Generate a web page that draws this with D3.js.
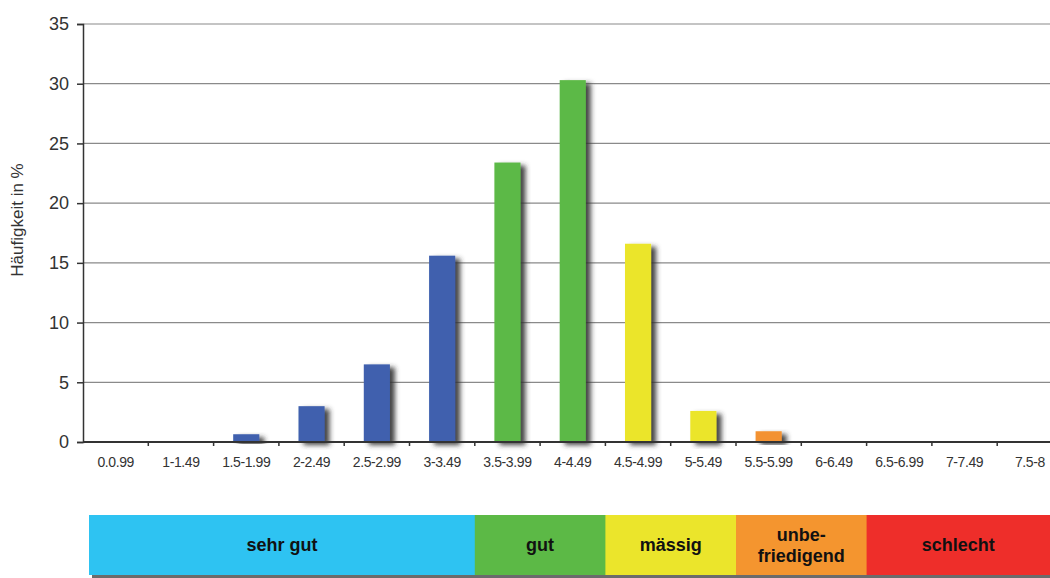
<!DOCTYPE html>
<html lang="de">
<head>
    <meta charset="UTF-8" />
    <title>Häufigkeit Notenverteilung</title>
    <script src="https://d3js.org/d3.v7.min.js"></script>
    <style>
        body { margin: 0; background: #fff; }
        svg { display: block; font-family: "Liberation Sans", Arial, Helvetica, sans-serif; }
    </style>
</head>
<body>
    <script>
        var w = 1050;
        var h = 578;

        // Data
        var categories = ["0.0.99", "1-1.49", "1.5-1.99", "2-2.49", "2.5-2.99", "3-3.49", "3.5-3.99",
            "4-4.49", "4.5-4.99", "5-5.49", "5.5-5.99", "6-6.49", "6.5-6.99", "7-7.49", "7.5-8"];
        var values = [0, 0, 0.65, 3.0, 6.5, 15.6, 23.4, 30.3, 16.6, 2.6, 0.9, 0, 0, 0, 0];
        var groups = ["sehr gut", "sehr gut", "sehr gut", "sehr gut", "sehr gut", "sehr gut", "gut",
            "gut", "mässig", "mässig", "unbefriedigend", "unbefriedigend", "schlecht", "schlecht", "schlecht"];
        var yTicks = [0, 5, 10, 15, 20, 25, 30, 35];
        var legendLabels = ["sehr gut", "gut", "mässig", "unbe-|friedigend", "schlecht"];
        var legendStart = [0, 6, 8, 10, 12];   // category index where a band starts
        var legendEnd = [6, 8, 10, 12, 15];

        var barColor = {
            "sehr gut": "#3f61ae",
            "gut": "#5cb946",
            "mässig": "#ebe52b",
            "unbefriedigend": "#f39230",
            "schlecht": "#ee2f2a"
        };
        var legendColor = ["#2ec3f2", "#5cb946", "#ebe52b", "#f4952f", "#ee2e2a"];

        var margin = { left: 83, top: 24 };
        var plotBottom = 442;

        var svg = d3.select("body")
            .append("svg")
            .attr("width", w)
            .attr("height", h);

        var defs = svg.append("defs");
        defs.append("filter")
            .attr("id", "shadow")
            .attr("x", "-20%").attr("y", "-20%")
            .attr("width", "160%").attr("height", "140%")
            .append("feDropShadow")
            .attr("dx", 5).attr("dy", 3)
            .attr("stdDeviation", 2.8)
            .attr("flood-color", "#333")
            .attr("flood-opacity", 0.9);

        // Scales
        var xScale = d3.scaleBand()
            .domain(d3.range(categories.length))
            .range([margin.left, margin.left + 15 * 65.3])
            .paddingInner(0.6)
            .paddingOuter(0.3);

        var step = xScale.step();
        function boundary(i) { return margin.left + i * step; }

        var yScale = d3.scaleLinear()
            .domain([0, 35])
            .range([plotBottom, margin.top]);

        // Grid lines
        svg.append("g")
            .selectAll("line")
            .data(yTicks.filter(function(d) { return d > 0; }))
            .enter()
            .append("line")
            .attr("x1", margin.left)
            .attr("x2", w)
            .attr("y1", function(d) { return yScale(d); })
            .attr("y2", function(d) { return yScale(d); })
            .attr("stroke", "#8a8a8a")
            .attr("stroke-width", 1.2);

        // Bars
        svg.append("g")
            .selectAll("rect")
            .data(values)
            .enter()
            .filter(function(d) { return d > 0; })
            .append("rect")
            .attr("x", function(d) { return xScale(values.indexOf(d)); })
            .attr("y", function(d) { return yScale(d); })
            .attr("width", xScale.bandwidth())
            .attr("height", function(d) { return plotBottom - yScale(d); })
            .attr("fill", function(d) { return barColor[groups[values.indexOf(d)]]; })
            .attr("filter", "url(#shadow)");

        // Y axis
        var yAxis = d3.axisLeft(yScale)
            .tickValues(yTicks)
            .tickSize(6)
            .tickPadding(8);

        var gy = svg.append("g")
            .attr("transform", "translate(" + margin.left + ",0)")
            .call(yAxis);
        gy.select(".domain").attr("stroke", "#333").attr("stroke-width", 1.5);
        gy.selectAll(".tick line").attr("stroke", "#333").attr("stroke-width", 1.5);
        gy.selectAll("text")
            .attr("fill", "#333")
            .attr("font-size", "18px")
            .attr("font-family", "\"Liberation Sans\", Arial, sans-serif");

        // X axis (ticks at band boundaries)
        svg.append("line")
            .attr("x1", margin.left)
            .attr("x2", w)
            .attr("y1", plotBottom)
            .attr("y2", plotBottom)
            .attr("stroke", "#333")
            .attr("stroke-width", 1.8);

        svg.append("g")
            .selectAll("line")
            .data(d3.range(1, categories.length))
            .enter()
            .append("line")
            .attr("x1", function(d) { return boundary(d); })
            .attr("x2", function(d) { return boundary(d); })
            .attr("y1", plotBottom)
            .attr("y2", plotBottom + 4)
            .attr("stroke", "#333")
            .attr("stroke-width", 1.5);

        svg.append("g")
            .selectAll("text")
            .data(categories)
            .enter()
            .append("text")
            .attr("x", function(d, i) { return xScale(i) + xScale.bandwidth() / 2; })
            .attr("y", 467)
            .attr("text-anchor", "middle")
            .attr("font-size", "14px")
            .attr("letter-spacing", "-0.4px")
            .attr("fill", "#333")
            .text(function(d) { return d; });

        // Y axis title
        svg.append("text")
            .attr("transform", "translate(23,220) rotate(-90)")
            .attr("text-anchor", "middle")
            .attr("font-size", "17px")
            .attr("fill", "#333")
            .text("Häufigkeit in %");

        // Legend band
        var lg = svg.append("g");
        var bandTop = 515;
        var bandH = 60;

        lg.append("rect")
            .attr("x", boundary(0) + 9)
            .attr("y", bandTop + 3)
            .attr("width", w)
            .attr("height", bandH)
            .attr("fill", "#6b6b6b");

        lg.selectAll("rect.seg")
            .data(legendLabels)
            .enter()
            .append("rect")
            .attr("class", "seg")
            .attr("x", function(d, i) { return i === 0 ? boundary(0) + 6 : boundary(legendStart[i]); })
            .attr("y", bandTop)
            .attr("width", function(d, i) {
                var x0 = i === 0 ? boundary(0) + 6 : boundary(legendStart[i]);
                return boundary(legendEnd[i]) - x0 + 1;
            })
            .attr("height", bandH)
            .attr("fill", function(d, i) { return legendColor[i]; });

        lg.selectAll("text")
            .data(legendLabels)
            .enter()
            .append("text")
            .attr("x", function(d, i) {
                var x0 = i === 0 ? boundary(0) + 6 : boundary(legendStart[i]);
                var x1 = Math.min(boundary(legendEnd[i]), w);
                return (x0 + x1) / 2;
            })
            .attr("y", bandTop + bandH / 2)
            .attr("text-anchor", "middle")
            .attr("font-size", "18px")
            .attr("font-weight", "bold")
            .attr("fill", "#111")
            .each(function(d) {
                var lines = d.split("|");
                var t = d3.select(this);
                lines.forEach(function(line, k) {
                    t.append("tspan")
                        .attr("x", t.attr("x"))
                        .attr("dy", k === 0 ? (lines.length === 1 ? "0.35em" : "-0.25em") : "1.2em")
                        .text(line);
                });
            });
    </script>
</body>
</html>
